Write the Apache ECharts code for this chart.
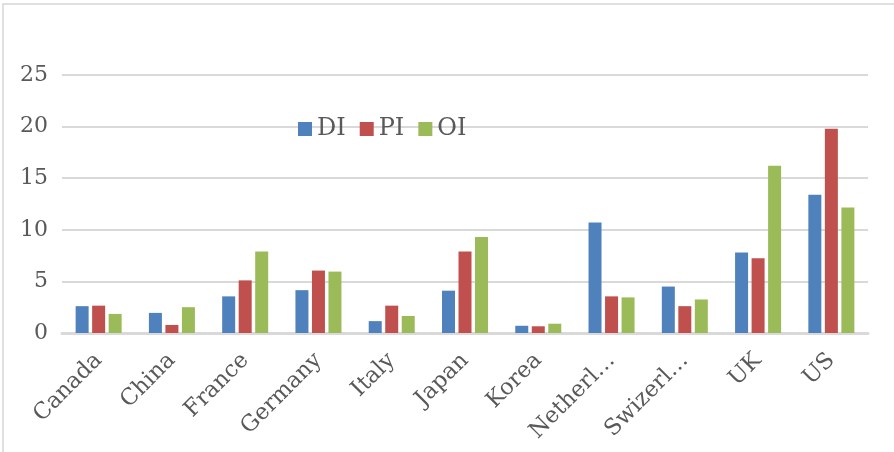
<!DOCTYPE html>
<html>
<head>
<meta charset="utf-8">
<script src="https://cdn.jsdelivr.net/npm/echarts@6/dist/echarts.min.js"></script>
<style>
  html, body { margin: 0; padding: 0; background: #ffffff; }
  #chart { width: 894px; height: 452px; }
</style>
</head>
<body>
<div id="chart"></div>
<script>
// Countries on the category axis
const countries = ['Canada', 'China', 'France', 'Germany', 'Italy', 'Japan', 'Korea', 'Netherlands', 'Swizerland', 'UK', 'US'];

// Series values per country
const diValues = [2.6, 1.95, 3.55, 4.15, 1.15, 4.1, 0.7, 10.7, 4.5, 7.8, 13.4];
const piValues = [2.65, 0.78, 5.1, 6.05, 2.65, 7.9, 0.65, 3.55, 2.6, 7.25, 19.8];
const oiValues = [1.85, 2.5, 7.9, 5.95, 1.65, 9.3, 0.9, 3.45, 3.25, 16.2, 12.15];

// Value axis ticks
const yTicks = [0, 5, 10, 15, 20, 25];

const seriesNames = ['DI', 'PI', 'OI'];
const seriesColors = ['#4F81BD', '#C0504D', '#9BBB59'];
const seriesData = [diValues, piValues, oiValues];

const textFont = 'DejaVu Serif';
const textColor = '#595959';

const chart = echarts.init(document.getElementById('chart'), null, { renderer: 'canvas' });

chart.setOption({
  animation: false,
  backgroundColor: '#ffffff',
  graphic: [{
    type: 'rect',
    shape: { x: 3, y: 4, width: 1200, height: 1200 },
    style: { fill: 'none', stroke: '#d6d6d6', lineWidth: 1.5 },
    silent: true,
    z: -1
  }],
  legend: {
    data: seriesNames,
    left: 298,
    top: 117,
    padding: 0,
    itemWidth: 14,
    itemHeight: 14,
    itemGap: 14,
    icon: 'rect',
    textStyle: { fontFamily: textFont, fontSize: 24, color: textColor }
  },
  grid: { left: 62, right: 26, top: 75, bottom: 119, containLabel: false },
  xAxis: {
    type: 'category',
    data: countries,
    axisLine: { show: true, lineStyle: { color: '#d9d9d9', width: 3 } },
    axisTick: { show: false },
    axisLabel: {
      rotate: 45,
      interval: 0,
      margin: 24,
      fontFamily: textFont,
      fontSize: 22.5,
      color: textColor,
      formatter: function (name) {
        return name.length > 8 ? name.slice(0, 7) + '…' : name;
      }
    }
  },
  yAxis: {
    type: 'value',
    min: yTicks[0],
    max: yTicks[yTicks.length - 1],
    interval: yTicks[1] - yTicks[0],
    axisLine: { show: false },
    axisTick: { show: false },
    splitLine: { lineStyle: { color: '#d9d9d9', width: 2 } },
    axisLabel: {
      margin: 14,
      fontFamily: textFont,
      fontSize: 22,
      color: textColor
    }
  },
  series: seriesNames.map(function (name, i) {
    return {
      name: name,
      type: 'bar',
      data: seriesData[i],
      barWidth: 13,
      barGap: '27%',
      itemStyle: { color: seriesColors[i] }
    };
  })
});
</script>
</body>
</html>
